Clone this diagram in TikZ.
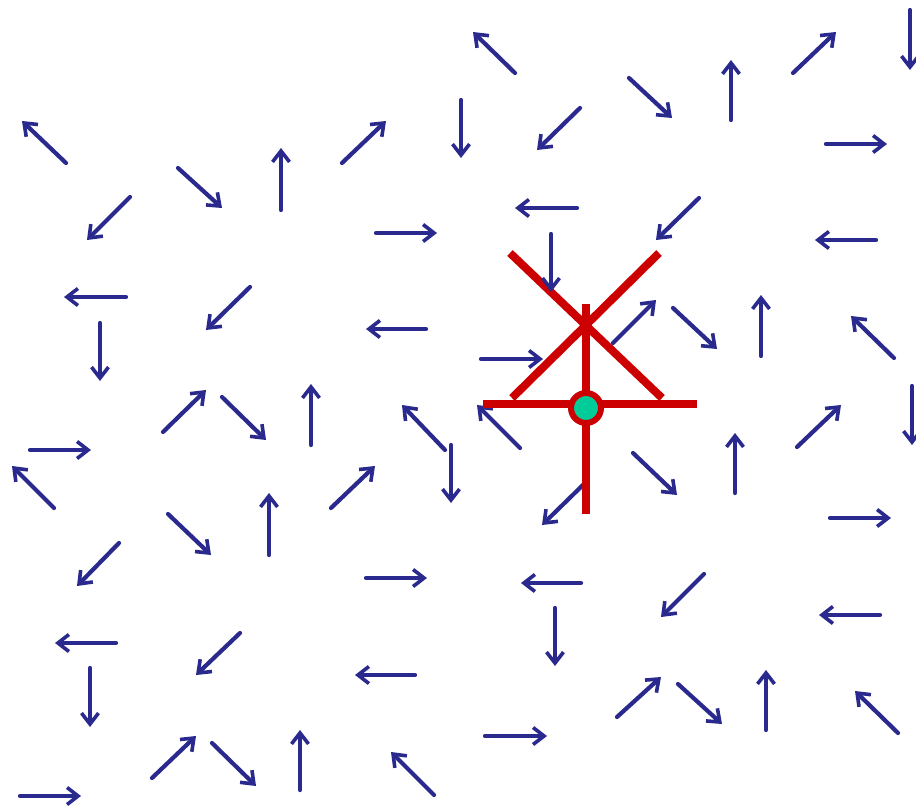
\documentclass[tikz,border=0pt]{standalone}
\usetikzlibrary{arrows.meta}
\definecolor{navy}{HTML}{2A2A8E}
\definecolor{redline}{HTML}{CC0000}
\definecolor{greendot}{HTML}{00CC99}
\begin{document}
\begin{tikzpicture}[x=1pt,y=-1pt,
  arr/.style={draw=navy,line width=4.2pt,line cap=round,-{Straight Barb[length=11pt,width=17pt,line width=3.6pt]}},
  redbar/.style={draw=redline,line width=8pt}]
\useasboundingbox[fill=white] (0,0) rectangle (916,806);
\foreach \a/\b/\c/\d in {
515/73/473/32, 910/10/910/70, 793/73/836/32, 731/120/731/60, 629/78/672/118,
580/108/537/150, 461/100/461/158, 66/163/22/121, 342/163/386/121, 281/210/281/148,
178/168/222/208, 130/197/87/240, 826/144/887/144, 577/208/515/208, 376/233/437/233,
699/198/656/240, 876/240/815/240, 126/297/64/297, 250/287/206/330,
426/329/366/329, 100/323/100/381, 673/308/717/349, 761/356/761/295,
894/358/851/316, 163/432/206/390, 222/397/266/440, 311/445/311/384,
445/450/402/405, 520/448/477/405, 451/445/451/503, 912/386/912/445, 797/447/841/405,
735/493/735/433, 633/453/677/495, 30/450/91/450, 54/508/12/466, 331/508/375/466,
168/514/211/555, 269/555/269/493, 585/483/542/525, 830/518/891/518, 119/543/77/586,
366/578/427/578, 581/583/521/583, 704/574/661/617, 880/615/819/615, 116/643/55/643,
240/633/196/675, 555/608/555/666, 415/675/355/675, 90/668/90/727, 617/717/661/677,
678/684/722/724, 766/730/766/670, 898/733/855/691, 485/736/547/736, 152/778/196/736,
212/743/256/786, 300/790/300/730, 434/795/391/752, 20/796/81/796}
  \draw[arr] (\a,\b) -- (\c,\d);
% red figure
\draw[redbar] (510,253) -- (662,398);
\draw[redbar] (659,253) -- (512,398);
\draw[redbar] (586,304) -- (586,514);
\draw[redbar] (483,404) -- (697,404);
% arrows drawn over the red lines
\draw[arr] (551,234) -- (551,292);
\draw[arr] (613,343) -- (656,300);
\draw[arr] (481,359) -- (543,359);
\node[circle,fill=greendot,draw=redline,line width=6pt,minimum size=30pt,inner sep=0pt] (dot) at (586,408) {};
\end{tikzpicture}
\end{document}
